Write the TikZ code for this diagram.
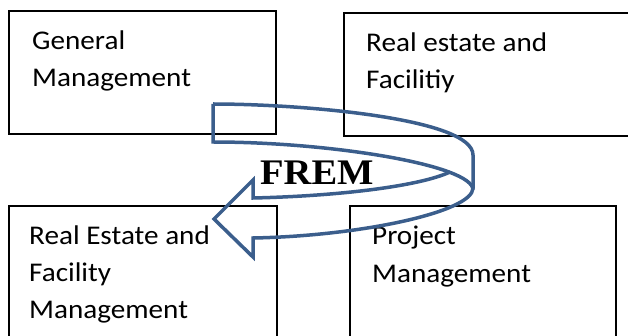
\documentclass[tikz,border=0pt]{standalone}
\usepackage{fontspec}
\setmainfont{Carlito}[FakeStretch=1.08]
\newfontfamily\fremfont{Liberation Serif}[FakeStretch=1.07]
\definecolor{arrowblue}{RGB}{59,94,140}

\begin{document}
\begin{tikzpicture}[x=1pt,y=-1pt,
	box/.style={draw=black,line width=1.8pt},
	lbl/.style={anchor=base west,align=left,inner sep=0pt,font=\fontsize{27}{37}\selectfont},
	frem/.style={anchor=base west,inner sep=0pt,font=\fremfont\bfseries\fontsize{36}{40}\selectfont},
	arrowline/.style={draw=arrowblue,line width=3.5pt}]
	\useasboundingbox (0,0) rectangle (628,336);
	\clip (0,0) rectangle (628,336);
	% the four boxes
	\draw[box] (9,11) rectangle (276,134);
	\draw[box] (344,13) rectangle (650,136);
	\draw[box] (9,206) rectangle (277,350);
	\draw[box] (350,206) rectangle (616,350);
	% labels (base = last line)
	\node[lbl] (general) at (32,87) {General\\Management};
	\node[lbl] (estate) at (366,89) {Real estate and\\Facilitiy};
	\node[lbl] (frm) at (29,318) {Real Estate and\\Facility\\Management};
	\node[lbl] (project) at (372,282) {Project\\Management};
	% curved arrow
	\draw[arrowline] (213,104) .. controls (300,104) and (473,118) .. (473,155) -- (473,188)
		.. controls (473,212) and (360,236) .. (253,238) -- (253,257) -- (214,219) -- (253,180) -- (253,198)
		.. controls (340,196) and (420,186) .. (450,172);
	\draw[arrowline] (213,104) -- (213,142) .. controls (330,142) and (473,165) .. (473,190);
	\node[frem] (frem) at (260,185) {FREM};
\end{tikzpicture}
\end{document}
